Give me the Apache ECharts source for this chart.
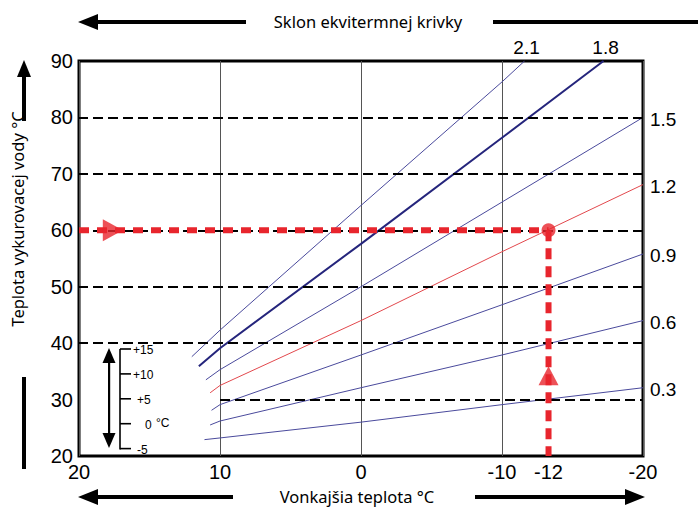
<!DOCTYPE html>
<html><head><meta charset="utf-8">
<script src="https://cdn.jsdelivr.net/npm/echarts@6/dist/echarts.min.js"></script>
<style>html,body{margin:0;padding:0;background:#fff}#c{width:698px;height:509px}</style>
</head><body><div id="c"></div>
<script>
// ---- data ----
const xTicks = [20, 10, 0, -10, -20];
const yTicks = [20, 30, 40, 50, 60, 70, 80, 90];
const slopeNames = ['0.3', '0.6', '0.9', '1.2', '1.5', '1.8', '2.1'];
const curve03 = [[11.1, 22.9], [10, 23.2], [0, 26.0], [-10, 29.1], [-20, 32.1]];
const curve06 = [[10.7, 25.5], [10, 26.2], [0, 32.1], [-10, 37.9], [-20, 44.0]];
const curve09 = [[10.6, 28.1], [10, 29.1], [0, 37.9], [-10, 46.8], [-20, 55.8]];
const curve12 = [[10.7, 31.2], [10, 32.5], [0, 44.0], [-10, 56.2], [-20, 68.1]];
const curve15 = [[11.0, 33.5], [10, 35.3], [0, 50.0], [-10, 65.0], [-20, 80.0]];
const curve18 = [[11.5, 35.9], [10, 39.1], [0, 57.6], [-10, 76.4], [-17.2, 90]];
const curve21 = [[12.0, 37.6], [10, 42.3], [0, 64.4], [-10, 86.3], [-11.6, 90]];
const curves = [curve03, curve06, curve09, curve12, curve15, curve18, curve21];
const dashedLevels = [40, 50, 60, 70, 80];
const dashed30 = [[10, 30], [-20, 30]];
const markerX = -13.3, markerY = 60, markerLabel = '-12';
const arrowRightAt = [17.6, 60];
const arrowUpAt = [-13.3, 34.2];
const insetLabels = ['+15', '+10', '+5', '0', '-5'];

const NUM_FONT = '"Liberation Sans", Arial, sans-serif';
const TXT_FONT = '"Noto Sans", "Open Sans", sans-serif';
const RED = '#e8252d';

const chart = echarts.init(document.getElementById('c'), null, {renderer: 'svg'});

const curveSeries = curves.map((d, i) => ({
  type: 'line', name: slopeNames[i], data: d, symbol: 'none', silent: true,
  lineStyle: {
    color: slopeNames[i] === '1.2' ? '#e2484d' : (slopeNames[i] === '1.8' ? '#25257c' : '#4a4a9c'),
    width: slopeNames[i] === '1.8' ? 2 : 1
  },
  z: 3
}));

const option = {
  animation: false,
  grid: {left: 79, right: 55, top: 61, bottom: 53, show: true, borderColor: '#000', borderWidth: 3, backgroundColor: 'transparent'},
  xAxis: {
    type: 'value', inverse: true, min: -20, max: 20, interval: 10,
    axisLine: {show: false}, axisTick: {show: false},
    splitLine: {show: true, lineStyle: {color: '#555', width: 1}},
    axisLabel: {
      customValues: xTicks.concat([markerX]),
      formatter: v => (Math.abs(v - markerX) < 0.01 ? markerLabel : String(v)),
      fontSize: 20, color: '#000', fontFamily: NUM_FONT, margin: 6
    }
  },
  yAxis: {
    type: 'value', min: 20, max: 90, interval: 10,
    axisLine: {show: false}, axisTick: {show: false}, splitLine: {show: false},
    axisLabel: {fontSize: 20, color: '#000', fontFamily: NUM_FONT, margin: 6}
  },
  series: [
    {
      type: 'line', data: [], silent: true, z: 2,
      markLine: {
        silent: true, symbol: ['none', 'none'], label: {show: false},
        lineStyle: {type: [10, 5], color: '#000', width: 1.8},
        data: dashedLevels.map(v => ({yAxis: v})).concat([[{coord: dashed30[0]}, {coord: dashed30[1]}]])
      }
    },
    ...curveSeries,
    {type: 'line', data: [[20, markerY], [markerX, markerY]], symbol: 'none', silent: true, z: 5,
     lineStyle: {color: RED, width: 6, type: [10, 8]}},
    {type: 'line', data: [[markerX, markerY], [markerX, 20]], symbol: 'none', silent: true, z: 5,
     lineStyle: {color: RED, width: 6, type: [11, 7]}},
    {type: 'scatter', data: [[markerX, markerY]], symbol: 'circle', symbolSize: 14, silent: true, z: 6,
     itemStyle: {color: RED}},
    {type: 'scatter', data: [arrowRightAt], symbol: 'triangle', symbolRotate: -90, symbolSize: [22, 20], silent: true, z: 6,
     itemStyle: {color: RED}},
    {type: 'scatter', data: [arrowUpAt], symbol: 'triangle', symbolSize: [20, 19], silent: true, z: 6,
     itemStyle: {color: RED}}
  ]
};
chart.setOption(option);

// ---- decorations ----
const g = [];
const blk = {fill: '#000'};
// top arrow + title
g.push({type: 'polygon', shape: {points: [[78, 22], [98, 14], [98, 30]]}, style: blk});
g.push({type: 'rect', shape: {x: 96, y: 20, width: 150, height: 4}, style: blk});
g.push({type: 'rect', shape: {x: 493, y: 20, width: 205, height: 4}, style: blk});
g.push({type: 'text', x: 368, y: 21, style: {text: 'Sklon ekvitermnej krivky', font: '16.5px ' + TXT_FONT, fill: '#000', align: 'center', verticalAlign: 'middle'}});
// bottom arrows + title
g.push({type: 'polygon', shape: {points: [[78, 497], [98, 489], [98, 505]]}, style: blk});
g.push({type: 'rect', shape: {x: 96, y: 495, width: 137, height: 4}, style: blk});
g.push({type: 'rect', shape: {x: 475, y: 495, width: 152, height: 4}, style: blk});
g.push({type: 'polygon', shape: {points: [[645, 497], [625, 489], [625, 505]]}, style: blk});
g.push({type: 'text', x: 357, y: 496, style: {text: 'Vonkajšia teplota °C', font: '16.5px ' + TXT_FONT, fill: '#000', align: 'center', verticalAlign: 'middle'}});
// left arrow + axis name
g.push({type: 'polygon', shape: {points: [[24, 60], [17, 77], [31, 77]]}, style: blk});
g.push({type: 'rect', shape: {x: 22, y: 75, width: 4, height: 46}, style: blk});
g.push({type: 'rect', shape: {x: 22, y: 377, width: 4, height: 92}, style: blk});
g.push({type: 'text', x: 17, y: 219, rotation: Math.PI / 2,
  style: {text: 'Teplota vykurovacej vody °C', font: '16.5px ' + TXT_FONT, fill: '#000', align: 'center', verticalAlign: 'middle'}});
// inset scale
g.push({type: 'rect', shape: {x: 108, y: 360, width: 2.2, height: 78}, style: blk});
g.push({type: 'polygon', shape: {points: [[109, 348], [102.5, 363], [115.5, 363]]}, style: blk});
g.push({type: 'polygon', shape: {points: [[109, 448], [102.5, 433], [115.5, 433]]}, style: blk});
g.push({type: 'line', shape: {x1: 120, y1: 349, x2: 120, y2: 449.5}, style: {stroke: '#000', lineWidth: 1.6}});
const insetY0 = 349, insetStep = 24.9;
insetLabels.forEach((t, i) => {
  const y = insetY0 + i * insetStep;
  g.push({type: 'line', shape: {x1: 120, y1: y, x2: 131, y2: y}, style: {stroke: '#000', lineWidth: 1.6}});
  const xoff = t.length === 3 ? 133 : (t === '0' ? 145 : 137);
  g.push({type: 'text', x: xoff, y: y + 1, style: {text: t, font: '12px "Liberation Sans Narrow", ' + NUM_FONT, fill: '#000', align: 'left', verticalAlign: 'middle'}});
  if (t === '0') g.push({type: 'text', x: 156, y: y - 1, style: {text: '°C', font: '12px "Liberation Sans Narrow", ' + NUM_FONT, fill: '#000', align: 'left', verticalAlign: 'middle'}});
});
// curve end labels
curves.forEach((d, i) => {
  const end = d[d.length - 1];
  const p = chart.convertToPixel({gridIndex: 0}, end);
  if (end[1] >= 90) {
    g.push({type: 'text', x: p[0] + 2, y: p[1] - 4, style: {text: slopeNames[i], font: '19px ' + NUM_FONT, fill: '#000', align: 'center', verticalAlign: 'bottom'}});
  } else {
    g.push({type: 'text', x: p[0] + 7, y: p[1] + 2, style: {text: slopeNames[i], font: '19px ' + NUM_FONT, fill: '#000', align: 'left', verticalAlign: 'middle'}});
  }
});
chart.setOption({graphic: g});
</script>
</body></html>
